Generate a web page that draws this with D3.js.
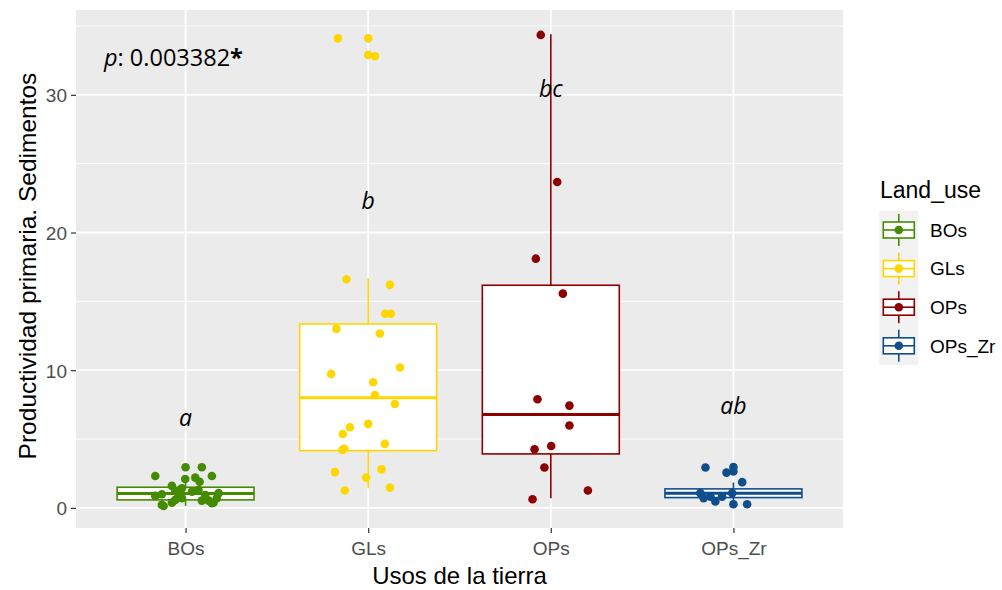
<!DOCTYPE html>
<html>
<head>
<meta charset="utf-8">
<script src="https://cdn.jsdelivr.net/npm/d3@7"></script>
<style>
  html, body { margin: 0; padding: 0; background: #fff; }
  svg { display: block; }
</style>
</head>
<body>
<svg id="chart" width="1002" height="590"></svg>
<script>
// Land use categories and their colours
const categories = ["BOs", "GLs", "OPs", "OPs_Zr"];
const colours = ["#458B00", "#FFD700", "#8B0000", "#104E8B"];

// Box statistics per land use
const whiskerLow = [0.14, 1.43, 0.70, 0.27];
const q1 = [0.58, 4.16, 3.92, 0.75];
const median = [1.04, 8.00, 6.78, 1.07];
const q3 = [1.50, 13.36, 16.17, 1.38];
const whiskerHigh = [2.32, 16.68, 34.40, 1.84];

// Outliers drawn at the box centre
const outliersGLs = [34.1, 32.9];
const outliersOPsZr = [2.96, 2.64];

// Jittered observations: [value, horizontal jitter in category units]
const obsBOs = [
  [2.32, -0.166], [2.95, 0.000], [2.95, 0.089], [2.32, 0.144], [2.10, -0.002],
  [2.20, 0.053], [1.90, 0.077], [1.60, -0.075], [1.43, -0.020], [1.23, -0.056],
  [0.87, -0.166], [0.99, -0.130], [0.94, -0.038], [1.18, 0.035], [1.30, 0.071],
  [0.94, 0.108], [1.07, 0.181], [0.70, 0.171], [0.38, 0.153], [0.53, 0.089],
  [0.53, 0.126], [0.38, -0.075], [0.14, -0.120], [0.70, -0.020], [0.58, -0.056],
  [0.34, 0.144], [0.22, -0.130]
];
const obsGLs = [
  [34.1, -0.166], [32.8, 0.037], [16.6, -0.119], [16.2, 0.119], [14.1, 0.093],
  [14.1, 0.124], [13.0, -0.174], [12.66, 0.064], [10.2, 0.174], [9.73, -0.203],
  [9.13, 0.027], [8.2, 0.037], [7.55, 0.146], [6.1, 0.000], [5.86, -0.100],
  [5.37, -0.139], [4.65, 0.091], [4.3, -0.131], [4.2, -0.142], [2.6, -0.182],
  [2.8, 0.073], [2.2, -0.011], [1.26, -0.128], [1.47, 0.119]
];
const obsOPs = [
  [34.35, -0.055], [23.67, 0.035], [18.1, -0.082], [15.56, 0.066], [7.89, -0.073],
  [7.43, 0.102], [5.98, 0.102], [4.50, 0.002], [4.26, -0.089], [2.93, -0.035],
  [1.26, 0.203], [0.63, -0.100]
];
const obsOPsZr = [
  [2.93, -0.153], [2.56, -0.038], [1.87, 0.048], [1.07, -0.181], [0.70, -0.163],
  [0.46, -0.099], [0.82, -0.062], [0.27, 0.000], [0.27, 0.075], [0.82, -0.126],
  [1.07, -0.007]
];

// Letters from the post-hoc comparison, and their heights
const groupLetters = ["a", "b", "bc", "ab"];
const letterHeights = [6.5, 22.3, 30.4, 7.4];

// Axis ticks
const yTicks = [0, 10, 20, 30];
const yMinorTicks = [5, 15, 25, 35];

const pValueText = "0.003382";

const svg = d3.select("#chart");
const panel = { left: 76, right: 843, top: 10, bottom: 528 };

const x = d3.scalePoint()
  .domain(categories)
  .range([panel.left, panel.right])
  .padding(0.6);
const step = x.step();

const y = d3.scaleLinear()
  .domain([-1.46, 36.16])
  .range([panel.bottom, panel.top]);

// Panel background and grid
svg.append("rect")
  .attr("x", panel.left).attr("y", panel.top)
  .attr("width", panel.right - panel.left).attr("height", panel.bottom - panel.top)
  .attr("fill", "#EBEBEB");

const grid = svg.append("g");
grid.selectAll(".minor").data(yMinorTicks).join("line")
  .attr("x1", panel.left).attr("x2", panel.right)
  .attr("y1", d => y(d)).attr("y2", d => y(d))
  .attr("stroke", "#fff").attr("stroke-width", 0.9);
grid.selectAll(".majorY").data(yTicks).join("line")
  .attr("x1", panel.left).attr("x2", panel.right)
  .attr("y1", d => y(d)).attr("y2", d => y(d))
  .attr("stroke", "#fff").attr("stroke-width", 1.8);
grid.selectAll(".majorX").data(categories).join("line")
  .attr("x1", d => x(d)).attr("x2", d => x(d))
  .attr("y1", panel.top).attr("y2", panel.bottom)
  .attr("stroke", "#fff").attr("stroke-width", 1.8);

// Axes
const yAxis = svg.append("g")
  .attr("transform", `translate(${panel.left},0)`)
  .call(d3.axisLeft(y).tickValues(yTicks).tickSize(5).tickPadding(4).tickFormat(d3.format("d")));
const xAxis = svg.append("g")
  .attr("transform", `translate(0,${panel.bottom})`)
  .call(d3.axisBottom(x).tickSize(5).tickPadding(4));
[yAxis, xAxis].forEach(a => {
  a.select(".domain").remove();
  a.selectAll(".tick line").attr("stroke", "#333").attr("stroke-width", 1.2);
  a.selectAll(".tick text")
    .attr("fill", "#4D4D4D")
    .style("font-family", "'Liberation Sans', Arial, sans-serif")
    .style("font-size", "19px");
});
xAxis.selectAll(".tick text").attr("dy", "0.95em");
yAxis.selectAll(".tick text").attr("dy", "0.36em");

// Axis titles
svg.append("text")
  .attr("x", (panel.left + panel.right) / 2).attr("y", 584)
  .attr("text-anchor", "middle")
  .style("font-family", "'Liberation Sans', Arial, sans-serif")
  .style("font-size", "24px").attr("fill", "#000")
  .text("Usos de la tierra");
svg.append("text")
  .attr("transform", `translate(36,266) rotate(-90)`)
  .attr("text-anchor", "middle")
  .style("font-family", "'Liberation Sans', Arial, sans-serif")
  .style("font-size", "24.5px").attr("fill", "#000")
  .text("Productividad primaria. Sedimentos");

// Boxplots
const boxW = step * 0.75;
const boxes = svg.append("g");
categories.forEach((c, i) => {
  const cx = x(c);
  const col = colours[i];
  const g = boxes.append("g");
  g.append("line")
    .attr("x1", cx).attr("x2", cx)
    .attr("y1", y(whiskerHigh[i])).attr("y2", y(q3[i]))
    .attr("stroke", col).attr("stroke-width", 1.6);
  g.append("line")
    .attr("x1", cx).attr("x2", cx)
    .attr("y1", y(q1[i])).attr("y2", y(whiskerLow[i]))
    .attr("stroke", col).attr("stroke-width", 1.6);
  g.append("rect")
    .attr("x", cx - boxW / 2).attr("width", boxW)
    .attr("y", y(q3[i])).attr("height", y(q1[i]) - y(q3[i]))
    .attr("fill", "#fff").attr("stroke", col).attr("stroke-width", 1.6);
  g.append("line")
    .attr("x1", cx - boxW / 2).attr("x2", cx + boxW / 2)
    .attr("y1", y(median[i])).attr("y2", y(median[i]))
    .attr("stroke", col).attr("stroke-width", 3);
});

// Outliers
const pts = svg.append("g");
const r = 4.3;
pts.selectAll(".outGLs").data(outliersGLs).join("circle")
  .attr("cx", x("GLs")).attr("cy", d => y(d)).attr("r", r).attr("fill", colours[1]);
pts.selectAll(".outZr").data(outliersOPsZr).join("circle")
  .attr("cx", x("OPs_Zr")).attr("cy", d => y(d)).attr("r", r).attr("fill", colours[3]);

// Jittered observations
[obsBOs, obsGLs, obsOPs, obsOPsZr].forEach((obs, i) => {
  pts.append("g").selectAll("circle").data(obs).join("circle")
    .attr("cx", d => x(categories[i]) + d[1] * step)
    .attr("cy", d => y(d[0]))
    .attr("r", r)
    .attr("fill", colours[i]);
});

// Group letters
svg.append("g").selectAll("text").data(groupLetters).join("text")
  .attr("x", (d, i) => x(categories[i]))
  .attr("y", (d, i) => y(letterHeights[i]))
  .attr("dy", "0.35em")
  .attr("text-anchor", "middle")
  .style("font-family", "'Open Sans', sans-serif")
  .style("font-size", "23px")
  .style("font-style", "italic")
  .attr("fill", "#000")
  .text(d => d);

// p-value annotation
const pText = svg.append("text")
  .attr("x", 104).attr("y", 66)
  .style("font-family", "'Open Sans', sans-serif")
  .style("font-size", "23.5px")
  .attr("fill", "#000");
pText.append("tspan").style("font-style", "italic").text("p");
pText.append("tspan").text(": " + pValueText);
pText.append("tspan").style("font-weight", "bold").text("*");

// Legend
const legend = svg.append("g");
legend.append("text")
  .attr("x", 880).attr("y", 198)
  .style("font-family", "'Liberation Sans', Arial, sans-serif")
  .style("font-size", "23px").attr("fill", "#000")
  .text("Land_use");
const keyH = 38.6, keyTop = 210.7, keyX = 879.3, keyW = 39;
legend.append("rect")
  .attr("x", keyX).attr("y", keyTop)
  .attr("width", keyW).attr("height", keyH * categories.length)
  .attr("fill", "#F2F2F2");
categories.forEach((c, i) => {
  const cy = keyTop + keyH * (i + 0.5);
  const cx = keyX + keyW / 2;
  const col = colours[i];
  const g = legend.append("g");
  g.append("line").attr("x1", cx).attr("x2", cx)
    .attr("y1", cy - 16).attr("y2", cy + 16)
    .attr("stroke", col).attr("stroke-width", 1.6);
  g.append("rect")
    .attr("x", cx - 15.5).attr("y", cy - 8)
    .attr("width", 31).attr("height", 16)
    .attr("fill", "#fff").attr("stroke", col).attr("stroke-width", 1.6);
  g.append("line").attr("x1", cx - 15.5).attr("x2", cx + 15.5)
    .attr("y1", cy).attr("y2", cy)
    .attr("stroke", col).attr("stroke-width", 1.6);
  g.append("circle").attr("cx", cx).attr("cy", cy).attr("r", 4.3).attr("fill", col);
  g.append("text")
    .attr("x", 930).attr("y", cy).attr("dy", "0.36em")
    .style("font-family", "'Liberation Sans', Arial, sans-serif")
    .style("font-size", "19px").attr("fill", "#000")
    .text(c);
});
</script>
</body>
</html>
